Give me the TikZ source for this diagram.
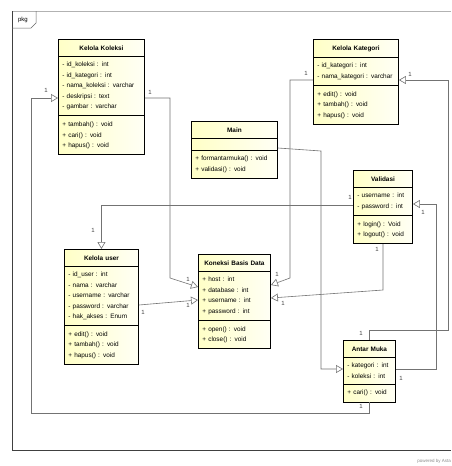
\documentclass[tikz,border=0pt]{standalone}
\usepackage{fontspec}
\setmainfont{Liberation Sans}
\usetikzlibrary{arrows.meta,shapes.multipart}

\tikzset{
  umlclass/.style={rectangle split, rectangle split parts=3, draw=black, line width=0.9pt,
    left color=yellow!22, right color=yellow!4, anchor=north west,
    inner xsep=4pt, inner ysep=5.5pt, align=left,
    font=\fontsize{6.4}{10.5}\selectfont,
    every text node part/.style={align=center},
    rectangle split empty part height=0pt},
  assoc/.style={draw=black!55, line width=0.6pt, -{Triangle[open,length=7pt,width=8pt]}},
  link/.style={draw=black!55, line width=0.6pt},
  mult/.style={font=\fontsize{6}{7}\selectfont, text=black!75, inner sep=0pt}
}

\begin{document}
\begin{tikzpicture}[x=1pt,y=-1pt]
  \useasboundingbox[fill=white] (0,0) rectangle (451,466);
  % package frame
  \draw[draw=black!30, line width=0.8pt] (451,11) -- (12,11);
  \draw[draw=black!75, line width=0.8pt] (12,11) -- (12,450) -- (451,450);
  \draw[draw=black!60, line width=0.5pt] (12,28) -- (31,28) -- (36,23) -- (36,11);
  \node[font=\fontsize{6}{7}\selectfont] (pkg) at (23,19.5) {pkg};

  % classes
  \node[umlclass, text width=78pt] (koleksi) at (58,39) {\textbf{Kelola Koleksi}
    \nodepart{two} - id\_koleksi : int\\ - id\_kategori : int\\ - nama\_koleksi : varchar\\
      - deskripsi : text\\ - gambar : varchar
    \nodepart{three} + tambah() : void\\ + cari() : void\\ + hapus() : void};
  \node[umlclass, text width=77pt] (kategori) at (313,39) {\textbf{Kelola Kategori}
    \nodepart{two} - id\_kategori : int\\ - nama\_kategori : varchar
    \nodepart{three} + edit() : void\\ + tambah() : void\\ + hapus() : void};
  \node[umlclass, text width=78pt] (main) at (191,121) {\textbf{Main}
    \nodepart{two}
    \nodepart{three} + formantarmuka() : void\\ + validasi() : void};
  \node[umlclass, text width=51pt] (validasi) at (353,170) {\textbf{Validasi}
    \nodepart{two} - username : int\\ - password : int
    \nodepart{three} + login() : Void\\ + logout() : void};
  \node[umlclass, text width=66pt] (user) at (64,249) {\textbf{Kelola user}
    \nodepart{two} - id\_user : int\\ - nama : varchar\\ - username : varchar\\
      - password : varchar\\ - hak\_akses : Enum
    \nodepart{three} + edit() : void\\ + tambah() : void\\ + hapus() : void};
  \node[umlclass, text width=64pt] (koneksi) at (198,254) {\textbf{Koneksi Basis Data}
    \nodepart{two} + host : int\\ + database : int\\ + username : int\\ + password : int
    \nodepart{three} + open() : void\\ + close() : void};
  \node[umlclass, text width=44pt] (antar) at (343,340) {\textbf{Antar Muka}
    \nodepart{two} - kategori : int\\ - koleksi : int
    \nodepart{three} + cari() : void};

  % associations
  \draw[assoc] (koleksi.east |- 0,98) -| (170,278) -- (koneksi.west |- 0,287);
  \draw[assoc] (user.east |- 0,305) -- (koneksi.west |- 0,300);
  \draw[assoc] (kategori.west |- 0,80) -| (290,278) -- (koneksi.east |- 0,285);
  \draw[assoc] (validasi.south) -- (383,290) -- (koneksi.east |- 0,298);
  \draw[assoc] (validasi.west |- 0,205) -| (user.north);
  \draw[assoc] (main.east |- 0,148) -- (321,151) |- (antar.west |- 0,369);
  \draw[assoc] (antar.south) -- (antar.south |- 0,413) -| (31,98) -- (koleksi.west |- 0,98);
  \draw[assoc] (antar.north) -- (antar.north |- 0,330) -| (448,80) -- (kategori.east |- 0,80);
  \draw[assoc] (antar.east |- 0,369) -| (436,204) -- (validasi.east |- 0,204);

  % multiplicities
  \node[mult] (m1a) at (150,92) {1};
  \node[mult] (m1b) at (188,279) {1};
  \node[mult] (m2a) at (143,312) {1};
  \node[mult] (m2b) at (188,305) {1};
  \node[mult] (m3a) at (306,73) {1};
  \node[mult] (m3b) at (277,274) {1};
  \node[mult] (m4a) at (377,249) {1};
  \node[mult] (m4b) at (283,303) {1};
  \node[mult] (m5a) at (350,197) {1};
  \node[mult] (m5b) at (93,230) {1};
  \node[mult] (m6a) at (46,90) {1};
  \node[mult] (m6b) at (361,406) {1};
  \node[mult] (m7a) at (410,74) {1};
  \node[mult] (m7b) at (361,333) {1};
  \node[mult] (m8a) at (423,212) {1};
  \node[mult] (m8b) at (401,378) {1};

  \node[anchor=east, font=\fontsize{4.5}{5}\selectfont, text=black!45, inner sep=0pt] (astah) at (451,461) {powered by Asta};
\end{tikzpicture}
\end{document}
